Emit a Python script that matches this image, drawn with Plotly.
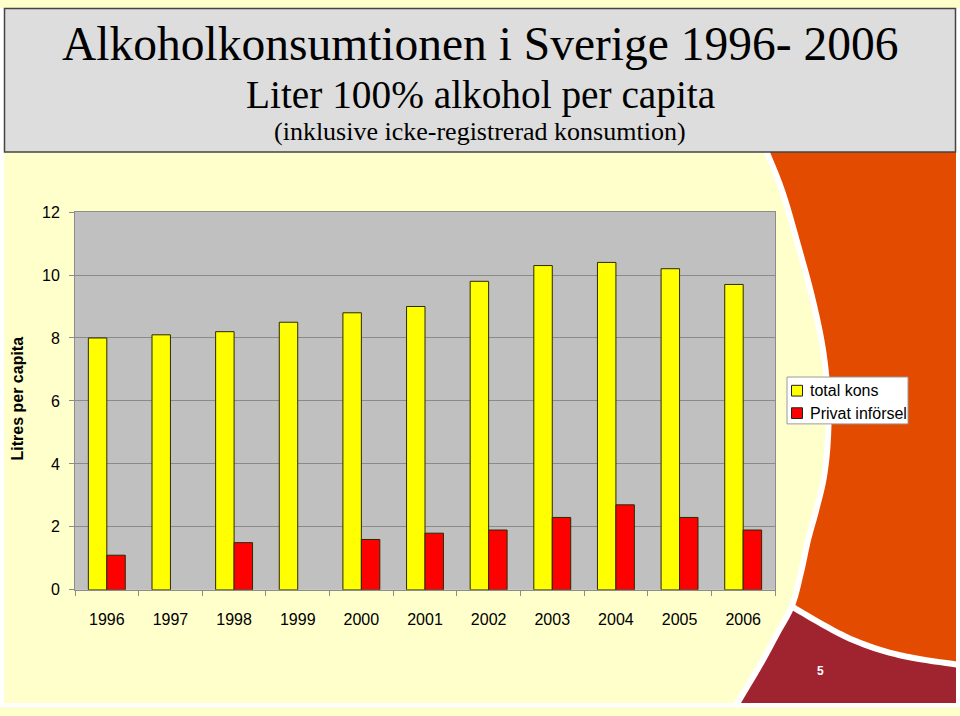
import plotly.graph_objects as go

# ---------------- data ----------------
years = ["1996", "1997", "1998", "1999", "2000", "2001", "2002", "2003", "2004", "2005", "2006"]
total_kons = [8.0, 8.1, 8.2, 8.5, 8.8, 9.0, 9.8, 10.3, 10.4, 10.2, 9.7]
privat_inforsel = [1.1, None, 1.5, None, 1.6, 1.8, 1.9, 2.3, 2.7, 2.3, 1.9]
series_names = ["total kons", "Privat införsel"]
series_colors = ["#FFFF00", "#FF0000"]
y_ticks = [0, 2, 4, 6, 8, 10, 12]
title_lines = ["Alkoholkonsumtionen i Sverige 1996- 2006",
               "Liter 100% alkohol per capita",
               "(inklusive icke-registrerad konsumtion)"]
y_title = "Litres per capita"
page_number = "5"

W, H = 960, 716


def X(px):
    return px / W


def Y(py):
    return 1 - py / H


def smooth(pts, n=10):
    # Catmull-Rom sampling through the given pixel points
    out = []
    P = [pts[0]] + pts + [pts[-1]]
    for i in range(1, len(P) - 2):
        p0, p1, p2, p3 = P[i - 1], P[i], P[i + 1], P[i + 2]
        for k in range(n):
            t = k / n
            t2, t3 = t * t, t * t * t
            x = 0.5 * ((2 * p1[0]) + (-p0[0] + p2[0]) * t + (2 * p0[0] - 5 * p1[0] + 4 * p2[0] - p3[0]) * t2 + (-p0[0] + 3 * p1[0] - 3 * p2[0] + p3[0]) * t3)
            y = 0.5 * ((2 * p1[1]) + (-p0[1] + p2[1]) * t + (2 * p0[1] - 5 * p1[1] + 4 * p2[1] - p3[1]) * t2 + (-p0[1] + 3 * p1[1] - 3 * p2[1] + p3[1]) * t3)
            out.append((x, y))
    out.append(pts[-1])
    return out


def svg_path(pts, close=True):
    s = "M " + " L ".join(f"{X(x):.5f},{Y(y):.5f}" for x, y in pts)
    return s + (" Z" if close else "")


# ---------------- decorative geometry (pixels) ----------------
upper_curve = [(764, 140), (767, 148), (783, 190), (800, 250), (813, 300), (823, 350), (828, 400),
               (828, 440), (824, 480), (816, 515), (808, 545), (801, 578), (792, 612)]
lower_curve = [(792, 612), (777, 641), (760, 673), (735, 716)]
split_curve = [(792, 612), (800, 618), (850, 646), (900, 663), (960, 673)]

up_s = smooth(upper_curve)
low_s = smooth(lower_curve)
split_s = smooth(split_curve)

orange_pts = up_s + split_s[1:] + [(960, 140)]
darkred_pts = split_s + [(960, 716)] + list(reversed(low_s))[:-1]
white_curve = smooth(upper_curve + lower_curve[1:])

shapes = []
# orange region
shapes.append(dict(type="path", xref="paper", yref="paper", layer="below",
                   path=svg_path(orange_pts), fillcolor="#E24B00", line=dict(width=0)))
# dark red region
shapes.append(dict(type="path", xref="paper", yref="paper", layer="below",
                   path=svg_path(darkred_pts), fillcolor="#A02430", line=dict(width=0)))
# white separating curves
shapes.append(dict(type="path", xref="paper", yref="paper", layer="below",
                   path=svg_path(white_curve, close=False), line=dict(color="white", width=6)))
shapes.append(dict(type="path", xref="paper", yref="paper", layer="below",
                   path=svg_path(split_s, close=False), line=dict(color="white", width=6)))
# white page margins
for x0, y0, x1, y1 in [(0, 0, 4, 716), (956, 0, 960, 716), (0, 712, 960, 716)]:
    shapes.append(dict(type="rect", xref="paper", yref="paper", layer="below",
                       x0=X(x0), x1=X(x1), y0=Y(y1), y1=Y(y0),
                       fillcolor="white", line=dict(width=0)))
# title box
shapes.append(dict(type="rect", xref="paper", yref="paper", layer="below",
                   x0=X(4.5), x1=X(955.5), y0=Y(147.5), y1=Y(0.5),
                   fillcolor="#DDDDDD", line=dict(color="#444444", width=1.5)))

# ---------------- manual legend ----------------
leg_box = (787, 378, 908, 426)
shapes.append(dict(type="rect", xref="paper", yref="paper", layer="above",
                   x0=X(leg_box[0]), x1=X(leg_box[2]), y0=Y(leg_box[3]), y1=Y(leg_box[1]),
                   fillcolor="white", line=dict(color="#9A9A9A", width=1)))
annotations = []
for i, (name, col) in enumerate(zip(series_names, series_colors)):
    cy = 392 + i * 23
    shapes.append(dict(type="rect", xref="paper", yref="paper", layer="above",
                       x0=X(791.5), x1=X(802.5), y0=Y(cy + 5.5), y1=Y(cy - 5.5),
                       fillcolor=col, line=dict(color="#222222", width=1)))
    annotations.append(dict(x=X(808), y=Y(cy), xref="paper", yref="paper", text=name,
                            showarrow=False, xanchor="left", yanchor="middle",
                            font=dict(family="Liberation Sans, Arial", size=16, color="black")))

# ---------------- titles ----------------
title_specs = [(37, 47.5), (89, 39.3), (127, 26)]
for txt, (cy, sz) in zip(title_lines, title_specs):
    annotations.append(dict(x=X(480), y=Y(cy), xref="paper", yref="paper", text=txt,
                            showarrow=False, xanchor="center", yanchor="middle",
                            font=dict(family="Liberation Serif, Times New Roman", size=sz, color="black")))

annotations.append(dict(x=X(18), y=Y(400), xref="paper", yref="paper", text=f"<b>{y_title}</b>",
                        showarrow=False, textangle=-90, xanchor="center", yanchor="middle",
                        font=dict(family="Liberation Sans, Arial", size=16, color="black")))
annotations.append(dict(x=X(820), y=Y(679), xref="paper", yref="paper", text=f"<b>{page_number}</b>",
                        showarrow=False, xanchor="center", yanchor="middle",
                        font=dict(family="Liberation Sans, Arial", size=12, color="white")))

# ---------------- figure ----------------
fig = go.Figure()
for name, vals, col in zip(series_names, [total_kons, privat_inforsel], series_colors):
    fig.add_trace(go.Bar(x=years, y=vals, name=name, marker=dict(color=col, line=dict(color="#2A2A00", width=1)),
                         showlegend=False))

fig.update_layout(
    width=W, height=H,
    margin=dict(l=0, r=0, t=0, b=0),
    paper_bgcolor="#FFFFCC",
    plot_bgcolor="#C0C0C0",
    barmode="group",
    bargap=0.42,
    bargroupgap=0,
    shapes=shapes,
    annotations=annotations,
    font=dict(family="Liberation Sans, Arial", size=16, color="black"),
    xaxis=dict(domain=[X(75), X(775)], showline=True, mirror=True, linecolor="#8C8C8C", linewidth=1,
               ticks="outside", tickson="boundaries", ticklen=5, tickcolor="#8C8C8C",
               showgrid=False, tickfont=dict(size=16), ticklabelstandoff=15),
    yaxis=dict(domain=[Y(596), Y(209)], range=[0, 12], tickvals=y_ticks,
               showline=True, mirror=True, linecolor="#8C8C8C", linewidth=1,
               ticks="outside", ticklen=5, tickcolor="#8C8C8C",
               showgrid=True, gridcolor="#8A8A8A", gridwidth=1, zeroline=False,
               tickfont=dict(size=16), ticklabelstandoff=6),
)

fig.write_html("out.html", config={"displayModeBar": False},
               post_script="document.documentElement.style.margin='0';document.body.style.margin='0';"
                           "document.body.style.padding='0';document.documentElement.style.overflow='hidden';")
